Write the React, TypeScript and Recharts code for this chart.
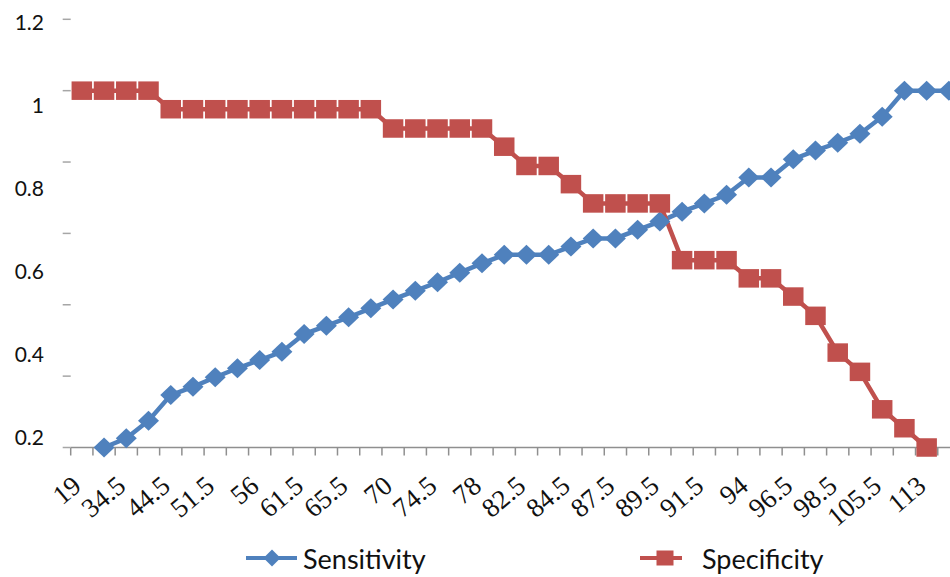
import React from "react";
import { LineChart, Line, XAxis, YAxis, Legend } from "recharts";

const categories = [
  "19", "29", "34.5", "40", "44.5", "48.5", "51.5", "54", "56", "59",
  "61.5", "63.5", "65.5", "68", "70", "72.5", "74.5", "76.5", "78", "80.5",
  "82.5", "83.5", "84.5", "86", "87.5", "88.5", "89.5", "90.5", "91.5", "93",
  "94", "95.5", "96.5", "97.5", "98.5", "102", "105.5", "109", "113", "117",
];

const sensitivity: (number | null)[] = [
  null, 0.0, 0.026, 0.075, 0.147, 0.17, 0.197, 0.222, 0.245, 0.268,
  0.318, 0.341, 0.365, 0.39, 0.415, 0.439, 0.463, 0.49, 0.516, 0.54,
  0.54, 0.54, 0.563, 0.586, 0.586, 0.61, 0.633, 0.661, 0.684, 0.708,
  0.757, 0.757, 0.808, 0.832, 0.854, 0.879, 0.927, 1.0, 1.0, 1.0,
];

const specificity: (number | null)[] = [
  1, 1, 1, 1, 0.948, 0.948, 0.948, 0.948, 0.948, 0.948,
  0.948, 0.948, 0.948, 0.948, 0.894, 0.894, 0.894, 0.894, 0.894, 0.843,
  0.789, 0.789, 0.738, 0.684, 0.684, 0.684, 0.684, 0.525, 0.525, 0.525,
  0.474, 0.474, 0.423, 0.369, 0.266, 0.212, 0.107, 0.054, 0, null,
];

const yTickValues = [0, 0.2, 0.4, 0.6, 0.8, 1.0, 1.2];
const yLabelValues = [0.2, 0.4, 0.6, 0.8, 1.0, 1.2];
const yLabelDomain: [number, number] = [0.1759, 1.2077];

const BLUE = "#4F81BD";
const RED = "#C0504D";
const FONT = "Lato, 'Open Sans', sans-serif";
const SERIF = "'Liberation Serif', 'DejaVu Serif', serif";

const data = categories.map((c, i) => ({
  i,
  cat: c,
  Sensitivity: sensitivity[i],
  Specificity: specificity[i],
}));

const boundaryTicks = [...categories.map((_, k) => k - 0.5), categories.length - 0.5];
const labelTicks = categories.map((_, k) => k).filter((k) => k % 2 === 0);

const Diamond = (props: any) => {
  const { cx, cy, index } = props;
  if (cx == null || cy == null || isNaN(cy)) return <g key={`d${index}`} />;
  const w = 10.5, h = 10;
  return (
    <polygon
      key={`d${index}`}
      points={`${cx},${cy - h} ${cx + w},${cy} ${cx},${cy + h} ${cx - w},${cy}`}
      fill={BLUE}
    />
  );
};

const Square = (props: any) => {
  const { cx, cy, index } = props;
  if (cx == null || cy == null || isNaN(cy)) return <g key={`s${index}`} />;
  const w = 20.5, h = 18.5;
  return <rect key={`s${index}`} x={cx - w / 2} y={cy - h / 2} width={w} height={h} fill={RED} />;
};

const XTick = (props: any) => {
  const { x, y, payload } = props;
  return (
    <g transform={`translate(${x + 1},${y + 40})`}>
      <text textAnchor="end" transform="rotate(-40)" fontSize={27} fontFamily={SERIF} fill="#111">
        {categories[payload.value]}
      </text>
    </g>
  );
};

const LegendContent = (props: any) => {
  const payload = props.payload || [];
  const pos: Record<string, { icon: number; text: number }> = {
    Sensitivity: { icon: 246, text: 303 },
    Specificity: { icon: 640, text: 702 },
  };
  return (
    <div style={{ position: "relative", width: 950, height: 36 }}>
      {payload.map((p: any) => {
        const name = p.value as string;
        const ps = pos[name];
        const isBlue = name === "Sensitivity";
        return (
          <React.Fragment key={name}>
            <svg
              width={54}
              height={24}
              style={{ position: "absolute", left: ps.icon, top: 5 }}
            >
              {isBlue ? (
                <>
                  <line x1={0} y1={12} x2={51} y2={12} stroke={BLUE} strokeWidth={4} />
                  <polygon points="26,3.5 34.5,12 26,20.5 17.5,12" fill={BLUE} />
                </>
              ) : (
                <>
                  <line x1={0} y1={12} x2={42} y2={12} stroke={RED} strokeWidth={4} />
                  <rect x={16.5} y={4.5} width={17} height={15} fill={RED} />
                </>
              )}
            </svg>
            <span
              style={{
                position: "absolute",
                left: ps.text,
                top: 0,
                lineHeight: "36px",
                fontSize: 27,
                fontFamily: FONT,
                color: "#111",
                whiteSpace: "nowrap",
              }}
            >
              {name}
            </span>
          </React.Fragment>
        );
      })}
    </div>
  );
};

export default function App() {
  return (
    <div
      style={{
        position: "absolute",
        left: 0,
        top: 0,
        width: 950,
        height: 577,
        overflow: "hidden",
        background: "#fff",
        fontFamily: FONT,
      }}
    >
      <LineChart
        width={970}
        height={577}
        data={data}
        margin={{ top: 19.3, right: 10, bottom: 0, left: 0 }}
      >
        <XAxis
          xAxisId="b"
          type="number"
          dataKey="i"
          domain={[-0.5, categories.length - 0.5]}
          ticks={labelTicks}
          interval={0}
          height={92.5}
          tickSize={0}
          tickMargin={0}
          axisLine={false}
          tickLine={false}
          tick={<XTick />}
        />
        <XAxis
          xAxisId="a"
          type="number"
          dataKey="i"
          domain={[-0.5, categories.length - 0.5]}
          ticks={boundaryTicks}
          interval={0}
          height={1}
          tickSize={8}
          tickFormatter={() => ""}
          stroke="#8f8f8f"
          axisLine={{ stroke: "#8f8f8f", strokeWidth: 1.5 }}
          tickLine={{ stroke: "#8f8f8f", strokeWidth: 1.5 }}
        />
        <YAxis
          yAxisId="b"
          type="number"
          domain={yLabelDomain}
          ticks={yLabelValues}
          allowDataOverflow
          interval={0}
          width={44}
          tickSize={0}
          tickMargin={0}
          axisLine={false}
          tickLine={false}
          tick={{ fontSize: 21, fontFamily: FONT, fill: "#111" }}
          tickFormatter={(v: number) => String(Number(v.toFixed(1)))}
        />
        <YAxis
          yAxisId="a"
          type="number"
          domain={[0, 1.2]}
          ticks={yTickValues}
          interval={0}
          width={26.7}
          tickSize={8}
          axisLine={false}
          tickLine={{ stroke: "#a6a6a6", strokeWidth: 1.5 }}
          tickFormatter={() => ""}
        />
        <Legend
          verticalAlign="bottom"
          height={36}
          wrapperStyle={{ left: 0, bottom: 0, width: 950, height: 36 }}
          content={<LegendContent />}
        />
        <Line
          xAxisId="a"
          yAxisId="a"
          type="linear"
          dataKey="Sensitivity"
          stroke={BLUE}
          strokeWidth={4.5}
          dot={Diamond}
          activeDot={false}
          isAnimationActive={false}
        />
        <Line
          xAxisId="b"
          yAxisId="a"
          type="linear"
          dataKey="Specificity"
          stroke={RED}
          strokeWidth={4.5}
          dot={Square}
          activeDot={false}
          isAnimationActive={false}
        />
      </LineChart>
    </div>
  );
}
